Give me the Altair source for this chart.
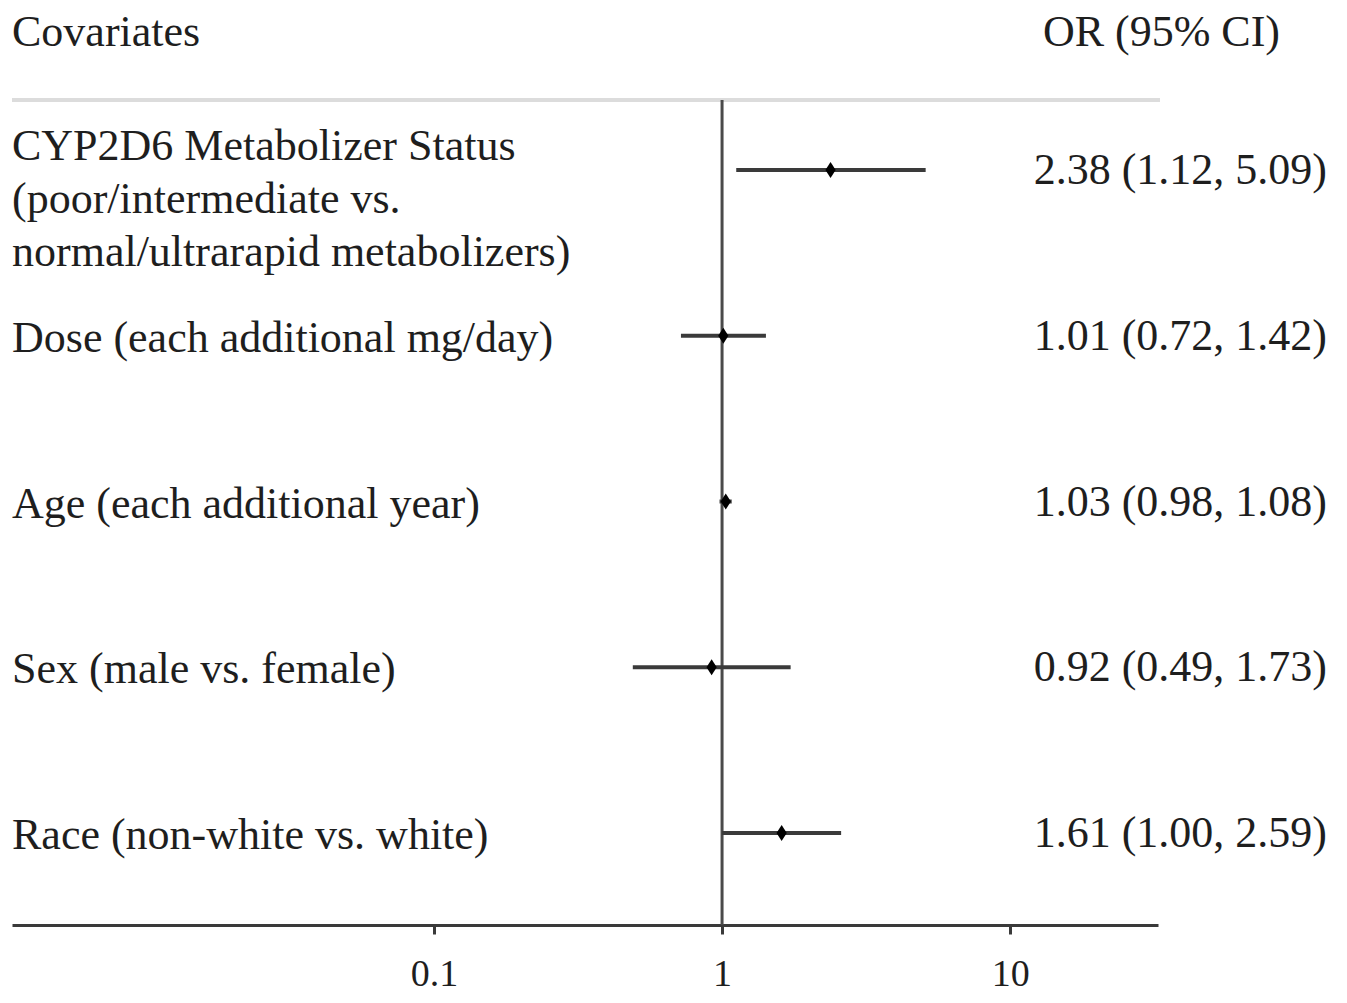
import altair as alt
import pandas as pd

covariates = [
    "CYP2D6 Metabolizer Status\n(poor/intermediate vs.\nnormal/ultrarapid metabolizers)",
    "Dose (each additional mg/day)",
    "Age (each additional year)",
    "Sex (male vs. female)",
    "Race (non-white vs. white)",
]
odds_ratio = [2.38, 1.01, 1.03, 0.92, 1.61]
ci_low = [1.12, 0.72, 0.98, 0.49, 1.00]
ci_high = [5.09, 1.42, 1.08, 1.73, 2.59]
x_ticks = [0.1, 1, 10]
headers = ["Covariates", "OR (95% CI)"]

df = pd.DataFrame({
    "label": covariates,
    "or": odds_ratio,
    "lo": ci_low,
    "hi": ci_high,
})
df["ortext"] = [f"{o:.2f} ({l:.2f}, {h:.2f})" for o, l, h in zip(odds_ratio, ci_low, ci_high)]
df["multi"] = df["label"].str.contains("\n")

W, H = 1146, 825
FONT = "Liberation Serif"
FS = 44
TXT = "#1e1e1e"

xscale = alt.Scale(type="log", domain=[0.00343, 32.6], nice=False)
yenc = alt.Y("label:N", sort=covariates,
             scale=alt.Scale(type="point", range=[70, 733], padding=0), axis=None)

base = alt.Chart(df)

ci = base.mark_rule(color="#3a3a3a", strokeWidth=4).encode(
    x=alt.X("lo:Q", scale=xscale,
            axis=alt.Axis(values=x_ticks, format="~g", grid=False, title=None,
                          domainColor="#3a3a3a", domainWidth=3,
                          tickColor="#3a3a3a", tickWidth=3, tickSize=9,
                          labelFont=FONT, labelFontSize=38, labelColor=TXT,
                          labelPadding=21)),
    x2="hi:Q",
    y=yenc,
)

ref = alt.Chart(pd.DataFrame({"v": [1]})).mark_rule(color="#4a4a4a", strokeWidth=3).encode(
    x=alt.X("v:Q", scale=xscale)
)

header_line = alt.Chart(pd.DataFrame({"v": [0]})).mark_rule(color="#dcdcdc", strokeWidth=4).encode(
    x=alt.value(0), x2=alt.value(W + 2), y=alt.value(0)
)

pts = base.mark_point(
    shape="M0,-1L0.65,0L0,1L-0.65,0Z", filled=True, color="black", size=250, opacity=1
).encode(x=alt.X("or:Q", scale=xscale), y=yenc)

lab1 = base.transform_filter("!datum.multi").mark_text(
    align="left", baseline="middle", font=FONT, fontSize=FS, color=TXT, dy=3
).encode(x=alt.value(0), y=yenc, text="label:N")

lab3 = base.transform_filter("datum.multi").mark_text(
    align="left", baseline="middle", font=FONT, fontSize=FS, color=TXT, dy=-23,
    lineBreak="\n", lineHeight=53
).encode(x=alt.value(0), y=yenc, text="label:N")

ortxt = base.mark_text(
    align="right", baseline="middle", font=FONT, fontSize=FS, color=TXT, dy=1
).encode(x=alt.value(1315), y=yenc, text="ortext:N")

hdr_df = pd.DataFrame({"h": headers})
hdr_left = alt.Chart(hdr_df.iloc[[0]]).mark_text(
    align="left", baseline="middle", font=FONT, fontSize=FS, color=TXT
).encode(x=alt.value(0), y=alt.value(-67), text="h:N")
hdr_right = alt.Chart(hdr_df.iloc[[1]]).mark_text(
    align="right", baseline="middle", font=FONT, fontSize=FS, color=TXT
).encode(x=alt.value(1268), y=alt.value(-67), text="h:N")

chart = alt.layer(
    header_line, ref, ci, pts, lab1, lab3, ortxt, hdr_left, hdr_right
).properties(
    width=W, height=H,
    autosize=alt.AutoSizeParams(type="none"),
    padding={"left": 4, "top": 92, "right": 181, "bottom": 70},
).configure(background="white").configure_view(stroke=None)

chart.save("out.html", embed_options={"renderer": "svg", "actions": False})
